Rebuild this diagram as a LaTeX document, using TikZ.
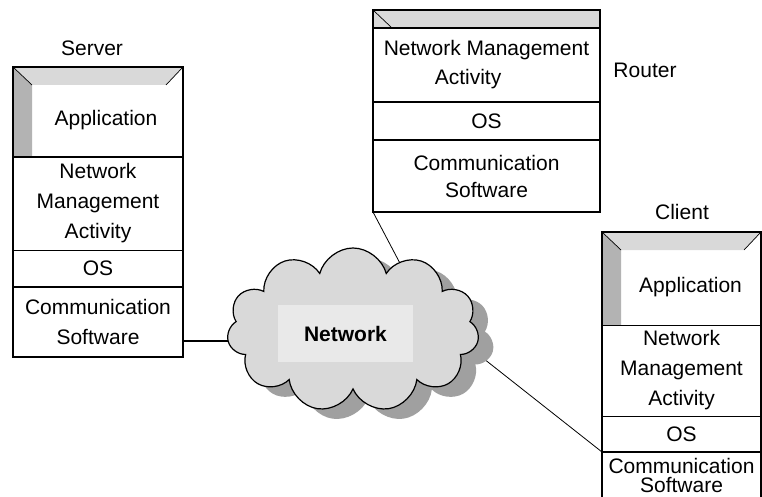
\documentclass[tikz,border=0pt]{standalone}
\usepackage{fontspec}
\setmainfont{Liberation Sans}
\usetikzlibrary{positioning,calc,fit,shapes.symbols,shadows,backgrounds}
\definecolor{NMBevelTop}{HTML}{D9D9D9}
\definecolor{NMBevelSide}{HTML}{B3B3B3}
\definecolor{NMCloud}{HTML}{D9D9D9}
\definecolor{NMShadow}{HTML}{A0A0A0}
\definecolor{NMTag}{HTML}{E9E9E9}
\tikzset{
  layer/.style={draw,line width=1pt,outer sep=0pt,inner sep=0pt,align=center,
                font=\fontsize{21}{30}\selectfont},
  frame/.style={draw,line width=2pt,inner sep=0pt,outer sep=0pt},
  tag/.style={font=\fontsize{21}{24}\selectfont},
  bevel/.style={path picture={
      \fill[NMBevelTop] (path picture bounding box.north west) -- (path picture bounding box.north east)
        -- ([xshift=-17pt,yshift=-18pt]path picture bounding box.north east)
        -- ([xshift=19pt,yshift=-18pt]path picture bounding box.north west) -- cycle;
      \fill[NMBevelSide] (path picture bounding box.north west)
        -- ([xshift=19pt,yshift=-18pt]path picture bounding box.north west)
        -- ([xshift=19pt]path picture bounding box.south west)
        -- (path picture bounding box.south west) -- cycle;
      \draw[line width=.7pt] (path picture bounding box.north west) -- ++(19pt,-18pt);
      \draw[line width=.7pt] (path picture bounding box.north east) -- ++(-17pt,-18pt);
    }},
  capband/.style={path picture={
      \fill[NMBevelTop] (path picture bounding box.south west) rectangle (path picture bounding box.north east);
      \draw[line width=.7pt] (path picture bounding box.north west) -- ++(19pt,-18pt);
    }},
  wire/.style={line width=2pt},
  thinwire/.style={line width=.8pt},
}

\begin{document}
\begin{tikzpicture}[x=1pt,y=-1pt]
  \useasboundingbox (0,0) rectangle (762,497);
  \clip (0,0) rectangle (762,497);

  % server
  \node[layer,bevel,line width=2pt,minimum width=170,minimum height=90] (sapp) at (98,112) {};
  \node[layer] (sapptext) at ([xshift=8pt,yshift=-8pt]sapp.center) [draw=none] {Application};
  \node[layer,minimum width=170,minimum height=93,below=0pt of sapp] (snma) {Network\\Management\\Activity};
  \node[layer,minimum width=170,minimum height=37,below=0pt of snma] (sos) {OS};
  \node[layer,line width=2pt,minimum width=170,minimum height=70,below=0pt of sos] (scomm) {Communication\\Software};
  \node[frame,fit=(sapp)(scomm)] (server) {};
  \node[tag] (servertag) at (92,48) {Server};

  % router
  \node[layer,capband,line width=2pt,minimum width=227,minimum height=18] (rtop) at (486.5,19) {};
  \node[layer,minimum width=227,minimum height=74,below=0pt of rtop,
        font=\fontsize{21}{29}\selectfont] (rnma) {Network Management\\Activity\hspace*{37pt}};
  \node[layer,line width=1.5pt,minimum width=227,minimum height=38,below=0pt of rnma] (ros) {OS};
  \node[layer,line width=1.5pt,minimum width=227,minimum height=72,below=0pt of ros,
        font=\fontsize{21}{27}\selectfont] (rcomm) {Communication\\Software};
  \node[frame,fit=(rtop)(rcomm)] (router) {};
  \node[tag] (routertag) at (645,70) {Router};

  % client
  \node[layer,bevel,minimum width=159,minimum height=93] (capp) at (681.5,278.5) {};
  \node[layer] (capptext) at ([xshift=9pt,yshift=-9pt]capp.center) [draw=none] {Application};
  \node[layer,minimum width=159,minimum height=91,below=0pt of capp] (cnma) {Network\\Management\\Activity};
  \node[layer,minimum width=159,minimum height=36,below=0pt of cnma] (cos) {OS};
  \node[layer,line width=2pt,minimum width=159,minimum height=46,below=0pt of cos,
        font=\fontsize{21}{19}\selectfont] (ccomm) {Communication\\Software};
  \node[frame,fit=(capp)(ccomm)] (client) {};
  \node[tag] (clienttag) at (682,212) {Client};

  % network cloud
  \node[cloud,cloud puffs=11,aspect=1.55,draw,line width=1.2pt,fill=NMCloud,
        minimum width=252,minimum height=164,inner sep=0pt,
        drop shadow={shadow xshift=15pt,shadow yshift=-10pt,fill=NMShadow,opacity=1}] (net) at (353,330) {};
  \node[fill=NMTag,minimum width=135,minimum height=57,
        font=\fontsize{21}{24}\selectfont\bfseries] (nettag) at (345.5,333.5) {Network};

  \begin{scope}[on background layer]
    \fill[white] (0,0) rectangle (762,497);
    \draw[wire] ([yshift=-19pt]scomm.east) -- ([xshift=-93pt,yshift=-11pt]net.center);
    \draw[thinwire] (rcomm.south west) -- ([xshift=50pt,yshift=61pt]net.center);
    \draw[thinwire] (ccomm.north west) -- ([xshift=107pt,yshift=-10pt]net.center);
  \end{scope}
\end{tikzpicture}
\end{document}
